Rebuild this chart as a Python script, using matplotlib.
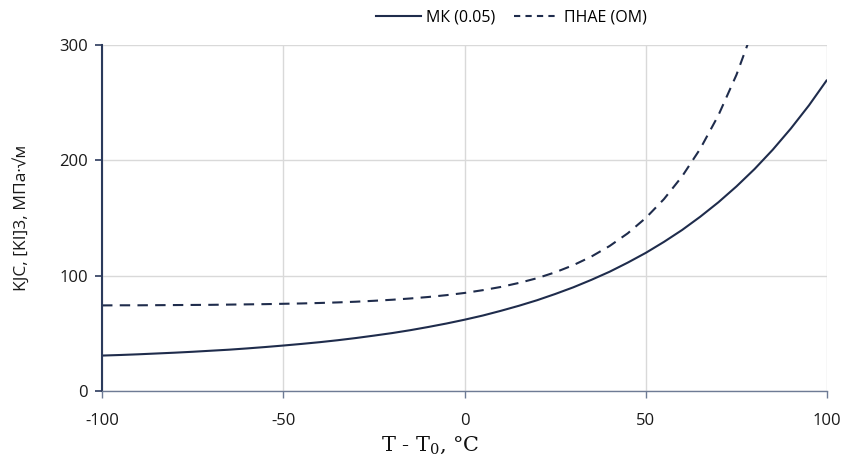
import matplotlib
matplotlib.use("Agg")
import matplotlib.pyplot as plt
from matplotlib.lines import Line2D

plt.rcParams["axes.unicode_minus"] = False
plt.rcParams["mathtext.fontset"] = "dejavuserif"

# Temperature T - T0, °C
temps = [-100, -95, -90, -85, -80, -75, -70, -65, -60, -55, -50, -45, -40, -35, -30,
         -25, -20, -15, -10, -5, 0, 5, 10, 15, 20, 25, 30, 35, 40, 45, 50, 55, 60,
         65, 70, 75, 80, 85, 90, 95, 100]
# МК (0.05)
mk_005 = [30.7, 31.2, 31.8, 32.5, 33.2, 34.0, 34.9, 35.8, 36.9, 38.1, 39.4, 40.8, 42.3,
          44.0, 45.9, 48.0, 50.2, 52.7, 55.5, 58.5, 61.8, 65.4, 69.5, 73.9, 78.7, 84.1,
          89.9, 96.4, 103.4, 111.3, 119.8, 129.3, 139.6, 151.1, 163.6, 177.4, 192.5,
          209.2, 227.6, 247.7, 269.9]
# ПНАЕ (ОМ)
pnae_temps = [-100, -95, -90, -85, -80, -75, -70, -65, -60, -55, -50, -45, -40, -35, -30,
              -25, -20, -15, -10, -5, 0, 5, 10, 15, 20, 25, 30, 35, 40, 45, 50, 55, 60,
              65, 70, 75, 80]
pnae_om = [74.2, 74.3, 74.3, 74.4, 74.5, 74.6, 74.7, 74.9, 75.1, 75.3, 75.6, 75.9, 76.3,
           76.8, 77.4, 78.2, 79.1, 80.2, 81.5, 83.1, 85.0, 87.4, 90.2, 93.7, 97.8, 102.9,
           109.1, 116.6, 125.7, 136.7, 150.1, 166.4, 186.1, 210.0, 239.0, 274.2, 317.1]

x_ticks = [-100, -50, 0, 50, 100]
y_ticks = [0, 100, 200, 300]

navy = "#1F2C4C"
grid_c = "#D9D9D9"
axis_c = "#2B3A5C"
sans = ["Open Sans", "DejaVu Sans"]

fig = plt.figure(figsize=(8.44, 4.66), dpi=100)
ax = fig.add_axes([0.1209, 0.161, 0.8591, 0.7424])

ax.plot(temps, mk_005, color=navy, lw=1.5, solid_capstyle="butt")
ax.plot(pnae_temps, pnae_om, color=navy, lw=1.5, dashes=(5, 3.5))

ax.set_xlim(-100, 100)
ax.set_ylim(0, 300)
ax.set_xticks(x_ticks)
ax.set_yticks(y_ticks)
ax.grid(True, color=grid_c, lw=1.0)
ax.set_axisbelow(True)

for s in ["top", "right"]:
    ax.spines[s].set_visible(False)
ax.spines["left"].set_color(axis_c)
ax.spines["left"].set_linewidth(1.5)
ax.spines["bottom"].set_color("#6E7B95")
ax.spines["bottom"].set_linewidth(1.0)

ax.tick_params(axis="y", direction="out", length=5, width=1.2, color=axis_c,
               labelsize=12, labelcolor="#1a1a1a", pad=5)
ax.tick_params(axis="x", direction="out", length=5, width=1.0, color="#6E7B95",
               labelsize=12, labelcolor="#1a1a1a", pad=11)
for lab in ax.get_xticklabels() + ax.get_yticklabels():
    lab.set_family(sans)

ax.set_ylabel("KJC, [KI]3, МПа·√м", family=sans, fontsize=12.5, color="#1a1a1a")
ax.yaxis.set_label_coords(-0.1, 0.5)

fig.text(0.51, 0.033, r"T - T$_\mathrm{0}$, °C", family=["DejaVu Serif"],
         fontsize=15, color="#111111", ha="center", va="baseline")

handles = [Line2D([], [], color=navy, lw=1.5),
           Line2D([], [], color=navy, lw=1.5, dashes=(3, 2.5))]
fig.legend(handles, ["МК (0.05)", "ПНАЕ (ОМ)"], loc="center",
           bbox_to_anchor=(0.606, 0.962), ncol=2, frameon=False,
           prop={"family": sans, "size": 11.5},
           handlelength=2.8, handletextpad=0.3, columnspacing=1.2)

fig.savefig("out.png", dpi=100)
